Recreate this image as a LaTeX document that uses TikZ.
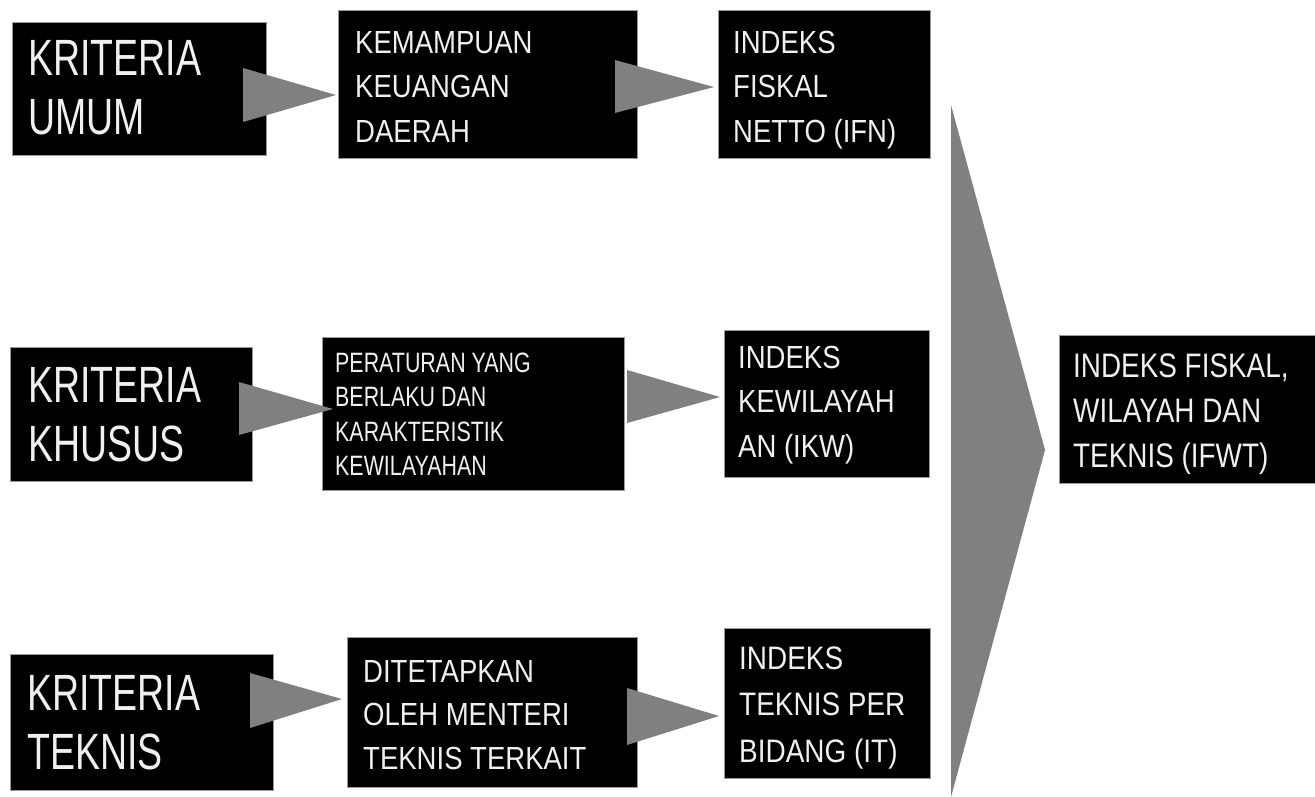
\documentclass[tikz,border=0pt]{standalone}
\usepackage{fontspec}
\usetikzlibrary{fit}
\newfontfamily\fontA[FakeStretch=0.735]{Liberation Sans}
\newfontfamily\fontB[FakeStretch=0.86]{Liberation Sans}
\newfontfamily\fontN[FakeStretch=0.765]{Liberation Sans}
\newfontfamily\fontD[FakeStretch=0.82]{Liberation Sans}
\newcommand\txl[1]{\vtop{\halign{##\hfil\cr#1\crcr}}}
\definecolor{trigray}{HTML}{808080}
\definecolor{edgegray}{HTML}{9A9A9A}
\definecolor{txtwhite}{HTML}{F0F0F0}
\tikzset{
  box/.style={fill=black, draw=edgegray, line width=0.8pt, inner sep=0pt},
  tri/.style={fill=trigray},
  lbl/.style={text=txtwhite, anchor=base west, inner sep=0pt},
  bigtxt/.style={lbl, font=\fontA\fontsize{51}{59}\selectfont},
  midtxt/.style={lbl, font=\fontB\fontsize{32}{44.5}\selectfont},
  smalltxt/.style={lbl, font=\fontN\fontsize{28}{34.5}\selectfont},
  endtxt/.style={lbl, font=\fontD\fontsize{34}{45}\selectfont}
}
\begin{document}
\begin{tikzpicture}[x=1pt,y=-1pt]
\useasboundingbox[fill=white] (0,0) rectangle (1315,796);
% boxes
\node[box, fit={(12,22)(266,155)}] (a1) {};
\node[box, fit={(338,10)(637,158)}] (b1) {};
\node[box, fit={(718,10)(930,158)}] (c1) {};
\node[box, fit={(10,347)(252,481)}] (a2) {};
\node[box, fit={(322,337)(624,490)}] (b2) {};
\node[box, fit={(724,330)(929,477)}] (c2) {};
\node[box, fit={(10,654)(273,790)}] (a3) {};
\node[box, fit={(347,637)(637,787)}] (b3) {};
\node[box, fit={(724,628)(930,778)}] (c3) {};
\node[box, fit={(1059,335)(1318,483)}] (d) {};
% texts
\node[bigtxt] (ta1) at (28,75) {\txl{KRITERIA\cr UMUM}};
\node[bigtxt] (ta2) at (28,402) {\txl{KRITERIA\cr KHUSUS}};
\node[bigtxt] (ta3) at (27,710) {\txl{KRITERIA\cr TEKNIS}};
\node[midtxt] (tb1) at (355,53) {\txl{KEMAMPUAN\cr KEUANGAN\cr DAERAH}};
\node[smalltxt] (tb2) at (335,372) {\txl{PERATURAN YANG\cr BERLAKU DAN\cr KARAKTERISTIK\cr KEWILAYAHAN}};
\node[midtxt, font=\fontB\fontsize{32}{43.5}\selectfont] (tb3) at (363,682) {\txl{DITETAPKAN\cr OLEH MENTERI\cr TEKNIS TERKAIT}};
\node[midtxt] (tc1) at (733,53) {\txl{INDEKS\cr FISKAL\cr NETTO (IFN)}};
\node[midtxt] (tc2) at (738,368) {\txl{INDEKS\cr KEWILAYAH\cr AN (IKW)}};
\node[midtxt, font=\fontB\fontsize{32.5}{46.5}\selectfont] (tc3) at (739,669) {\txl{INDEKS\cr TEKNIS PER\cr BIDANG (IT)}};
\node[endtxt] (td) at (1073,377) {\txl{INDEKS FISKAL,\cr WILAYAH DAN\cr TEKNIS (IFWT)}};
% triangle connectors
\coordinate (p1) at (336,95);
\coordinate (p2) at (714,87);
\coordinate (p3) at (333,409);
\coordinate (p4) at (720,397);
\coordinate (p5) at (342,699);
\coordinate (p6) at (719,716);
\coordinate (p7) at (1045,450);
\fill[tri] (243,68) -- (243,122) -- (p1) -- cycle;
\fill[tri] (615,60) -- (615,113) -- (p2) -- cycle;
\fill[tri] (239,382) -- (239,435) -- (p3) -- cycle;
\fill[tri] (627,370) -- (627,423) -- (p4) -- cycle;
\fill[tri] (250,673) -- (250,728) -- (p5) -- cycle;
\fill[tri] (627,688) -- (627,745) -- (p6) -- cycle;
\fill[tri] (951,105) -- (951,797) -- (p7) -- cycle;
\end{tikzpicture}
\end{document}
